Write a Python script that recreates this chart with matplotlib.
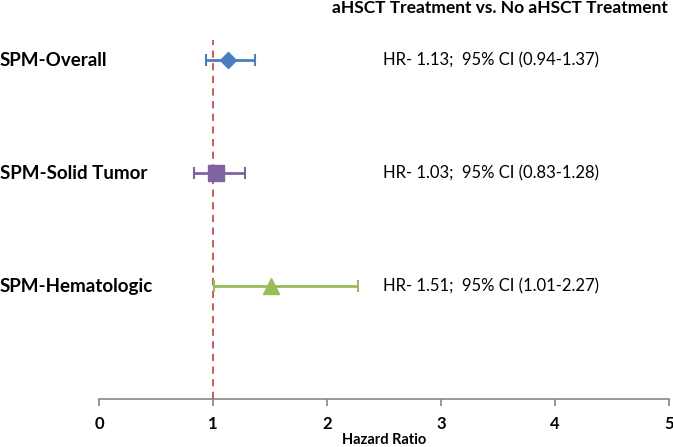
import matplotlib
matplotlib.use("Agg")
import matplotlib.pyplot as plt

categories = ["SPM-Overall", "SPM-Solid Tumor", "SPM-Hematologic"]
hr = [1.13, 1.03, 1.51]
ci_low = [0.94, 0.83, 1.01]
ci_high = [1.37, 1.28, 2.27]
annotations = ["HR- 1.13;  95% CI (0.94-1.37)",
               "HR- 1.03;  95% CI (0.83-1.28)",
               "HR- 1.51;  95% CI (1.01-2.27)"]
xticks = [0, 1, 2, 3, 4, 5]
title = "aHSCT Treatment vs. No aHSCT Treatment"
xlabel = "Hazard Ratio"

colors = ["#4A7EC0", "#8064A2", "#9BBB59"]
markers = ["D", "s", "^"]
msizes = [8, 11, 11]
ypos = [3, 2, 1]

plt.rcParams['font.family'] = ['Lato', 'DejaVu Sans']
fig = plt.figure(figsize=(6.73, 4.47), dpi=100)
ax = fig.add_axes([99/673, 48/447, 570/673, 359/447])
ax.set_xlim(0, 5)
ax.set_ylim(0, 3.18)

ax.axvline(1, color="#C0504D", ls=(0, (4, 3)), lw=1.3, zorder=1)

for i in range(3):
    ax.errorbar(hr[i], ypos[i],
                xerr=[[hr[i] - ci_low[i]], [ci_high[i] - hr[i]]],
                fmt=markers[i], color=colors[i], ms=msizes[i],
                ecolor=colors[i], elinewidth=2, capsize=4, capthick=1.5, zorder=3)
    yf = (48 + ypos[i] / 3.18 * 359) / 447
    fig.text(0.0, yf, categories[i],
             ha="left", va="center", fontsize=13.5, fontweight="bold")
    fig.text(383 / 673, yf, annotations[i],
             ha="left", va="center", fontsize=12)

fig.text(668 / 673, 1 - 8 / 447, title, ha="right", va="center", fontsize=12.5, fontweight="bold")

for s in ["top", "right", "left"]:
    ax.spines[s].set_visible(False)
ax.spines["bottom"].set_color("#868686")
ax.spines["bottom"].set_linewidth(1.2)
ax.set_yticks([])
ax.set_xticks(xticks)
ax.set_xticklabels([str(t) for t in xticks], fontsize=12, fontweight="bold")
ax.tick_params(axis="x", direction="out", length=5, color="#868686", width=1.2, pad=7)
ax.set_xlabel(xlabel, fontsize=10.5, fontweight="bold", labelpad=1)

fig.savefig("out.png", dpi=100)
